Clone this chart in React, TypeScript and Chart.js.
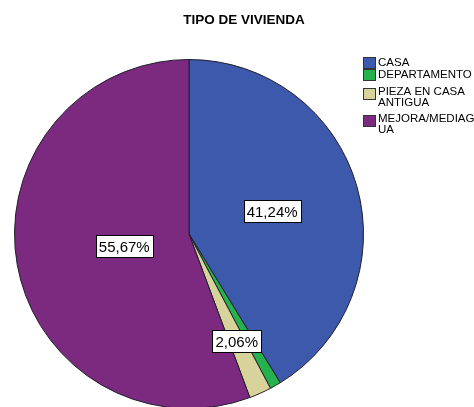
import React, { useEffect, useRef } from "react";
import { Chart, registerables } from "chart.js";

Chart.register(...registerables);

const TITLE = "TIPO DE VIVIENDA";
const categories = ["CASA", "DEPARTAMENTO", "PIEZA EN CASA ANTIGUA", "MEJORA/MEDIAGUA"];
const percents = [41.24, 1.03, 2.06, 55.67];
const percentLabels = ["41,24%", null, "2,06%", "55,67%"];

const COLORS = ["#3d59ab", "#25b14b", "#d8d39b", "#7c2a80"];
const LABEL_RADIUS = [0.495, 0.6, 0.67, 0.377];

const W = 474;
const H = 420;

function wrapText(ctx: CanvasRenderingContext2D, text: string, maxW: number): string[] {
  const lines: string[] = [];
  const words = text.split(" ");
  let cur = "";
  const pushWord = (w: string) => {
    let piece = "";
    for (const ch of w) {
      if (ctx.measureText(piece + ch).width > maxW && piece) {
        lines.push(piece);
        piece = ch;
      } else piece += ch;
    }
    return piece;
  };
  for (const w of words) {
    const cand = cur ? cur + " " + w : w;
    if (ctx.measureText(cand).width <= maxW) {
      cur = cand;
    } else {
      if (cur) lines.push(cur);
      cur = ctx.measureText(w).width > maxW ? pushWord(w) : w;
    }
  }
  if (cur) lines.push(cur);
  return lines;
}

const decorPlugin = {
  id: "decor",
  afterDraw(chart: any) {
    const ctx: CanvasRenderingContext2D = chart.ctx;
    ctx.save();
    // Title
    ctx.fillStyle = "#000";
    ctx.font = "bold 13.5px 'Liberation Sans', Arial, sans-serif";
    ctx.textAlign = "center";
    ctx.textBaseline = "middle";
    ctx.fillText(TITLE, 244, 20);

    // Percentage labels
    const meta = chart.getDatasetMeta(0);
    ctx.font = "15px 'Liberation Sans', Arial, sans-serif";
    meta.data.forEach((arc: any, i: number) => {
      const txt = percentLabels[i];
      if (!txt) return;
      const mid = (arc.startAngle + arc.endAngle) / 2;
      const r = arc.outerRadius * LABEL_RADIUS[i];
      const x = arc.x + Math.cos(mid) * r;
      const y = arc.y + Math.sin(mid) * r;
      const tw = ctx.measureText(txt).width;
      const bw = Math.round(tw + 6);
      const bh = 22;
      const bx = Math.round(x - bw / 2) + 0.5;
      const by = Math.round(y - bh / 2) + 0.5;
      ctx.fillStyle = "#fff";
      ctx.fillRect(bx, by, bw, bh);
      ctx.strokeStyle = "#000";
      ctx.lineWidth = 1;
      ctx.strokeRect(bx, by, bw, bh);
      ctx.fillStyle = "#000";
      ctx.textAlign = "center";
      ctx.textBaseline = "middle";
      ctx.fillText(txt, x, by + bh / 2 + 1);
    });

    // Legend
    ctx.font = "11.5px 'Liberation Sans', Arial, sans-serif";
    ctx.textAlign = "left";
    ctx.textBaseline = "middle";
    const itemTops = [57, 69, 86, 113];
    categories.forEach((c, i) => {
      const lines = wrapText(ctx, c, 100);
      const top = itemTops[i];
      const lineH = 11;
      const sqY = lines.length > 1 ? top + 2 : top;
      ctx.fillStyle = COLORS[i];
      ctx.fillRect(363.5, sqY + 0.5, 12, 11);
      ctx.strokeStyle = "#333";
      ctx.lineWidth = 1;
      ctx.strokeRect(363.5, sqY + 0.5, 12, 11);
      ctx.fillStyle = "#000";
      lines.forEach((ln, j) => {
        ctx.fillText(ln, 378, top + 6 + j * lineH);
      });
    });
    ctx.restore();
  },
};

export default function App() {
  const ref = useRef<HTMLCanvasElement>(null);
  useEffect(() => {
    if (!ref.current) return;
    const chart = new Chart(ref.current, {
      type: "pie",
      data: {
        labels: categories,
        datasets: [
          {
            data: percents,
            backgroundColor: COLORS,
            borderColor: "#1e1e2a",
            borderWidth: 1,
          },
        ],
      },
      options: {
        responsive: false,
        animation: false,
        devicePixelRatio: 1,
        layout: { padding: { left: 14, top: 59, right: 110, bottom: 11 } },
        plugins: {
          legend: { display: false },
          title: { display: false },
          tooltip: { enabled: false },
        },
      },
      plugins: [decorPlugin],
    });
    return () => chart.destroy();
  }, []);
  return (
    <div
      style={{
        position: "fixed",
        left: 0,
        top: 0,
        width: W,
        height: 407,
        overflow: "hidden",
        background: "#fff",
      }}
    >
      <canvas ref={ref} width={W} height={H} style={{ width: W, height: H, display: "block" }} />
    </div>
  );
}
